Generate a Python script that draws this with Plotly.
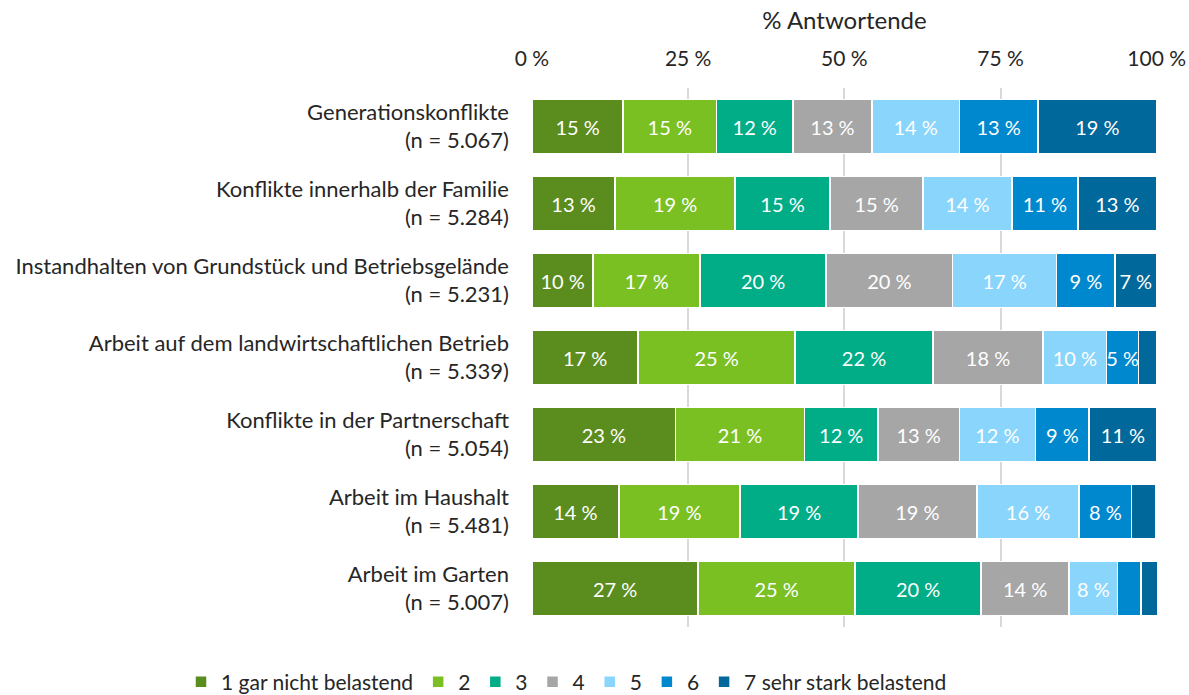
import plotly.graph_objects as go

categories = [
    "Generationskonflikte<br>(n = 5.067)",
    "Konflikte innerhalb der Familie<br>(n = 5.284)",
    "Instandhalten von Grundstück und Betriebsgelände<br>(n = 5.231)",
    "Arbeit auf dem landwirtschaftlichen Betrieb<br>(n = 5.339)",
    "Konflikte in der Partnerschaft<br>(n = 5.054)",
    "Arbeit im Haushalt<br>(n = 5.481)",
    "Arbeit im Garten<br>(n = 5.007)",
]

series_names = ["1 gar nicht belastend", "2", "3", "4", "5", "6", "7 sehr stark belastend"]

s1 = [14.6, 13.3, 9.8, 17.0, 23.0, 13.9, 26.6]
s2 = [14.9, 19.2, 17.1, 25.1, 20.6, 19.4, 25.1]
s3 = [12.3, 15.2, 20.2, 22.1, 11.8, 18.9, 20.2]
s4 = [12.6, 14.9, 20.2, 17.6, 13.0, 19.0, 14.1]
s5 = [14.0, 14.2, 16.7, 10.2, 12.2, 16.4, 7.7]
s6 = [12.6, 10.6, 9.3, 5.1, 8.6, 8.4, 3.8]
s7 = [19.0, 12.6, 6.7, 2.9, 10.8, 3.8, 2.6]

series_values = [s1, s2, s3, s4, s5, s6, s7]
colors = ["#5B8C1E", "#7AC023", "#00AD87", "#A6A6A6", "#8AD5FB", "#0088CF", "#00689B"]

tick_vals = [0, 25, 50, 75, 100]
tick_text = ["0 %", "25 %", "50 %", "75 %", "100 %"]

FONT = "Lato, Open Sans, sans-serif"
FS = 20

fig = go.Figure()
for name, vals, col in zip(series_names, series_values, colors):
    texts = [f"{round(v)} %" if v >= 4.5 else "" for v in vals]
    fig.add_trace(go.Bar(
        y=categories, x=vals, name=name, orientation="h",
        marker=dict(color=col, line=dict(color="white", width=1.5)),
        text=texts, textposition="inside", insidetextanchor="middle",
        constraintext="none",
        textfont=dict(color="white", size=FS, family=FONT),
        textangle=0, cliponaxis=False, width=0.7,
        hoverinfo="x+y+name",
    ))

fig.update_layout(
    barmode="stack",
    width=1189, height=695,
    margin=dict(l=532, r=32, t=88, b=68, autoexpand=False),
    paper_bgcolor="white", plot_bgcolor="white",
    font=dict(family=FONT, size=22, color="#262626"),
    xaxis=dict(
        side="top", range=[0, 100.05], tickvals=tick_vals, ticktext=tick_text,
        showgrid=True, gridcolor="#D9D9D9", gridwidth=1.5, zeroline=False,
        title=dict(text="% Antwortende", standoff=8, font=dict(size=24)),
        tickfont=dict(size=21), ticks="", showline=False, automargin=False,
        ticklabelstandoff=17,
    ),
    yaxis=dict(
        categoryorder="array", categoryarray=categories[::-1],
        autorange=False, range=[-0.5, 6.5],
        tickfont=dict(size=22), ticks="", showline=False, automargin=False,
        ticklabelstandoff=22,
    ),
    legend=dict(
        orientation="h", xref="paper", yref="paper",
        x=(181 - 532) / 625, xanchor="left", y=-(682 - 627) / 539, yanchor="middle",
        font=dict(size=21), traceorder="normal",
    ),
)

fig.write_html("out.html", config={"displayModeBar": False},
               post_script="document.body.style.margin='0';")
